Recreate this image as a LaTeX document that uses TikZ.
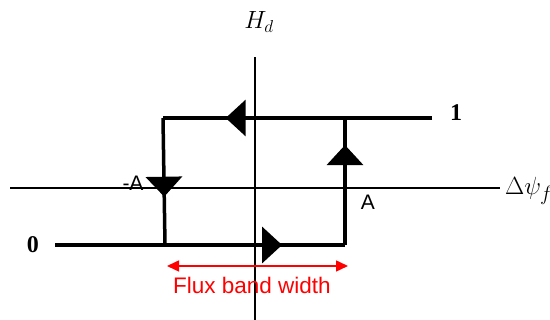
\documentclass[tikz,border=0pt]{standalone}
\usepackage{fontspec}
\setmainfont{Liberation Serif}
\setsansfont{Liberation Sans}
\usetikzlibrary{arrows.meta,decorations.markings}
\tikzset{
  axis/.style={line width=1.5pt,black},
  loop/.style={line width=3.5pt,black},
  midtip/.style={postaction={decorate},decoration={markings,
     mark=at position #1 with {\arrow{Triangle[length=20pt,width=36pt]}}}},
  lbl/.style={font=\sffamily\fontsize{21}{24}\selectfont,inner sep=0pt},
  num/.style={font=\bfseries\fontsize{24}{26}\selectfont,inner sep=0pt},
  redlbl/.style={font=\sffamily\fontsize{22.5}{26}\selectfont,text=red,inner sep=0pt},
  band/.style={red,line width=1.5pt,{Triangle[length=12pt,width=11pt]}-{Triangle[length=12pt,width=11pt]}}
}
\begin{document}
\begin{tikzpicture}[x=1pt,y=-1pt]
\useasboundingbox (0,0) rectangle (550,320);
% axes
\coordinate (yb) at (255,320);
\coordinate (yt) at (255,57);
\coordinate (xl) at (10,188);
\coordinate (xr) at (500,188);
\draw[axis] (yb) -- (yt);
\draw[axis] (xl) -- (xr);
\node[font=\fontsize{26}{28}\selectfont,inner sep=0pt] (hd) at (259,22) {$H_{d}$};
\node[font=\fontsize{28}{30}\selectfont,inner sep=0pt,anchor=west] (dpsi) at (505,191) {$\Delta\psi_{f}$};
% loop corners
\coordinate (p0) at (55,245);
\coordinate (bl) at (165,245);
\coordinate (br) at (345,245);
\coordinate (tr) at (345,118);
\coordinate (tl) at (163,118);
\coordinate (p1) at (432,118);
\draw[loop,midtip=0.783] (p0) -- (br);
\draw[loop,midtip=0.787] (br) -- (tr);
\draw[loop,midtip=0.767] (p1) -- (tl);
\draw[loop,midtip=0.62] (tl) -- (bl);
% labels
\node[num] (one) at (456,113) {1};
\node[num] (zero) at (33,245) {0};
\node[lbl] (mA) at (133,183) {-A};
\node[lbl] (A) at (368,202) {A};
% band width
\coordinate (bwl) at (167,266);
\coordinate (bwr) at (348,266);
\draw[band] (bwl) -- (bwr);
\node[redlbl] (fbw) at (252,285) {Flux band width};
\end{tikzpicture}
\end{document}
